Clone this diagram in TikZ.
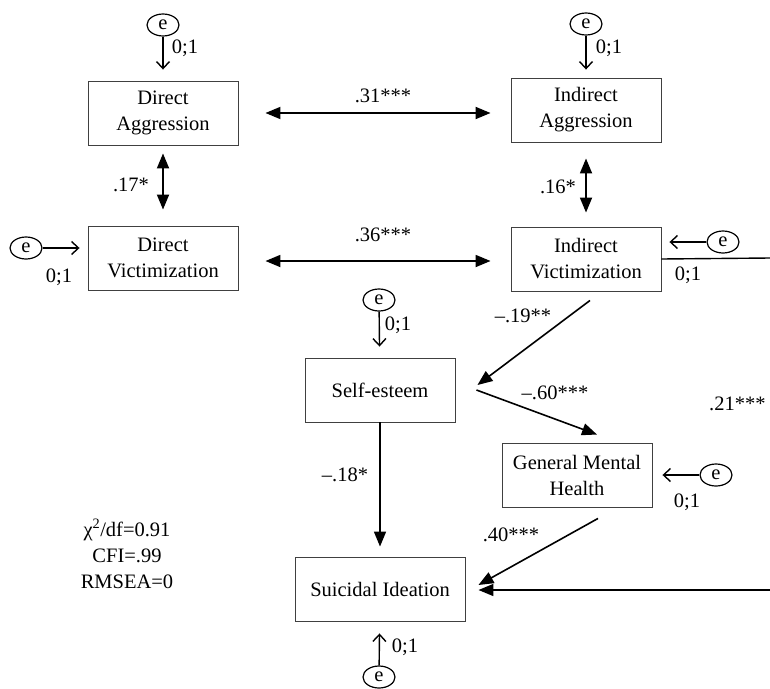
\documentclass[tikz,border=0pt]{standalone}
\usepackage{fontspec}
\setmainfont{Liberation Serif}
\usetikzlibrary{arrows.meta,shapes.geometric}
\begin{document}
\begin{tikzpicture}[x=1pt,y=-1pt,
  txt/.style={font=\fontsize{20.5}{26}\selectfont},
  box/.style={txt, draw=black!75, line width=0.9pt, fill=white, minimum width=150pt, minimum height=64pt, align=center, inner sep=0pt},
  err/.style={txt, draw, ellipse, line width=1.2pt, minimum width=32pt, minimum height=22pt, inner sep=0pt},
  lbl/.style={txt, inner sep=0pt},
  cov/.style={line width=1.8pt, {Triangle[length=15pt,width=12pt]}-{Triangle[length=15pt,width=12pt]}},
  pth/.style={line width=1.6pt, -{Triangle[length=15pt,width=12pt]}},
  earr/.style={line width=1.4pt, -{Straight Barb[length=7pt,width=13pt]}}
]
\useasboundingbox (0,0) rectangle (770,688);

% boxes
\node[box] (da) at (163,113) {Direct\\Aggression};
\node[box] (dv) at (163,258) {Direct\\Victimization};
\node[box] (ia) at (586,110) {Indirect\\Aggression};
\node[box] (iv) at (586,259) {Indirect\\Victimization};
\node[box] (se) at (380,390) {Self-esteem};
\node[box] (gmh) at (577,475) {General Mental\\Health};
\node[box, minimum width=170pt] (si) at (380,589) {Suicidal Ideation};

% error terms
\node[err] (e1) at (163,25) {e};
\node[err] (e2) at (586,24) {e};
\node[err] (e3) at (26,248) {e};
\node[err] (e4) at (723,242) {e};
\node[err] (e5) at (379,300) {e};
\node[err] (e6) at (379,677) {e};
\node[err] (e7) at (716,475) {e};

\draw[earr, shorten >=11pt] (e1) -- (da);
\draw[earr, shorten >=8pt] (e2) -- (ia);
\draw[earr, shorten >=8pt] (e3.east) -- (e3.east -| dv.west);
\draw[earr, shorten >=8pt] (e4.west) -- (e4.west -| iv.east);
\draw[earr, shorten >=11pt] (e5) -- (se);
\draw[earr, shorten >=12pt] (e6) -- (si);
\draw[earr, shorten >=10pt] (e7.west) -- (e7.west -| gmh.east);

\node[lbl] (l1) at (185,48) {0;1};
\node[lbl] (l2) at (609,48) {0;1};
\node[lbl] (l3) at (59,277) {0;1};
\node[lbl] (l4) at (688,275) {0;1};
\node[lbl] (l5) at (398,325) {0;1};
\node[lbl] (l6) at (405,647) {0;1};
\node[lbl] (l7) at (687,502) {0;1};

% covariances
\draw[cov, shorten <=27pt, shorten >=20pt] (da.east) -- (da.east -| ia.west);
\draw[cov, shorten <=27pt, shorten >=20pt] ([yshift=-3pt]dv.east) -- ([yshift=-3pt]dv.east -| iv.west);
\draw[cov, shorten <=8pt, shorten >=16pt] (da) -- (dv);
\draw[cov, shorten <=16pt, shorten >=14pt] (ia) -- (iv);

\node[lbl] (c1) at (383,96) {.31***};
\node[lbl] (c2) at (383,235) {.36***};
\node[lbl] (c3) at (131,185) {.17*};
\node[lbl] (c4) at (558,187) {.16*};

% paths
\draw[pth] ([xshift=4pt,yshift=-9pt]iv.south) -- ([xshift=22pt,yshift=5pt]se.east);
\draw[pth] ([xshift=21pt]se.east) -- ([xshift=20pt,yshift=8pt]gmh.north);
\draw[pth] ([xshift=21pt,yshift=-11pt]gmh.south) -- ([xshift=13pt,yshift=4pt]si.east);
\draw[pth, shorten >=10pt] (se) -- (si);

\coordinate (rt) at (770,258);
\coordinate (rb) at (770,590);
\draw[line width=1.4pt] (iv.east) -- (rt);
\draw[pth, shorten >=13pt] (rb) -- (rb -| si.east);

\node[lbl] (p1) at (523,316) {–.19**};
\node[lbl] (p2) at (555,393) {–.60***};
\node[lbl] (p3) at (511,535) {.40***};
\node[lbl] (p4) at (345,475) {–.18*};
\node[lbl, anchor=west] (p5) at (709,404) {.21***};

% fit statistics
\node[txt, align=center, inner sep=0pt] (fit) at (127,554) {χ\textsuperscript{2}/df=0.91\\CFI=.99\\RMSEA=0};
\end{tikzpicture}
\end{document}
